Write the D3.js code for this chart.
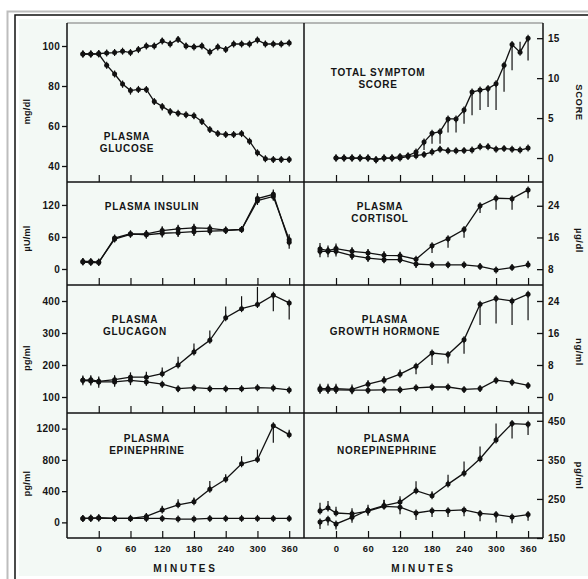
<!DOCTYPE html>
<html><head><meta charset="utf-8">
<script src="https://cdn.jsdelivr.net/npm/d3@7"></script>
<style>
body{margin:0;background:#fff}
svg{display:block}
text{font-family:"Liberation Sans",Arial,sans-serif;font-weight:bold;fill:#151515}
</style>
</head><body>
<svg id="c" width="588" height="579"></svg>
<script>
// ---------------- DATA ----------------
const xTicks = [0,60,120,180,240,300,360];

const glucoseTime = [-30,-15,0,15,30,45,60,75,90,105,120,135,150,165,180,195,210,225,240,255,270,285,300,315,330,345,360];
const glucoseControl = [96,96,96.2,96.5,96.7,97.4,96.7,98.2,100,100,102.5,101,103.3,100,99.5,100,97,99.5,98.3,101,101,101,103,101,101,101,101.5];
const glucoseControlErr = [1.5,1.5,1.5,1.2,1.2,1.2,1.2,1.5,1.5,1.5,1.5,1.5,1.5,1.5,1.5,1.5,1.5,1.5,1.5,1.5,1.5,1.5,1.5,1.5,1.5,1.5,1.5];
const glucoseHypo = [96,96,96,90.4,86,81,77.7,78.3,78.3,72.2,69.8,67.3,66.4,65.6,65.1,62.3,58.2,56.2,55.7,55.7,56.2,52.4,46.6,43.6,43.3,43.3,43.3];
const glucoseHypoErr = [-1.5,-1.5,-1.5,-1.5,-1.5,-1.8,-2,-1.5,-1.5,-1.5,-2,-2,-1.5,-1.5,-1.5,-1.5,-1.5,-1.5,-1.5,-1.5,-1.5,-1.5,-1.5,-1.5,-1.5,-1.5,-1.5];
const glucoseTicks = [40,60,80,100];

const scoreTime = [0,15,30,45,60,75,90,105,120,135,150,165,180,195,210,225,240,255,270,285,300,315,330,345,360];
const scoreControl = [0,0,0,0,0,-0.2,0,0,0,0.2,0.3,0.45,0.75,1.1,0.9,0.9,0.95,1.0,1.4,1.4,1.1,1.2,1.1,1.0,1.25];
const scoreControlErr = [0,0,0,0,0,0,0,0,0,0.2,0.3,0.3,0.4,0.4,0.4,0.3,0.3,0.3,0.4,0.4,0.3,0.3,0.3,0.3,0.3];
const scoreHypo = [0,0,0,0,0,-0.2,0,0,0.2,0.3,0.75,2.0,3.1,3.3,4.9,4.9,6.0,8.25,8.5,8.7,9.3,11.6,14.2,13.25,15];
const scoreHypoErr = [0,0,0,0,0,0,0,0,0,-0.3,-0.5,-1.0,-1.3,-1.5,-1.7,-1.7,-1.7,-2.9,-2.5,-2.3,-3.3,-3.3,-3.2,1.3,-2.8];
const scoreTicks = [0,5,10,15];

const hormoneTime = [-30,-15,0,30,60,90,120,150,180,210,240,270,300,330,360];

const insulinHypo = [14,14,13,56,65,66,72,75,77,76,73,74,128,136,55];
const insulinHypoErr = [6,5,5,6,6,7,8,8,8,8,6,5,14,13,10];
const insulinControl = [13,12,12,58,66,64,67,68,70,71,72,74,132,140,50];
const insulinControlErr = [-5,-5,-5,-6,-6,-7,-8,-8,-8,-8,-6,-5,-12,-12,-12];
const insulinTicks = [0,60,120];

const cortisolHypo = [13.1,12.7,13.2,12.5,12.1,11.5,11.4,10.5,13.9,15.7,18.0,24.0,25.9,25.8,28.0];
const cortisolHypoErr = [1.5,1.3,1.3,1.0,1.0,1.0,1.0,-1.0,-1.8,-2.3,-2.1,-1.8,-2.9,-2.8,-2.1];
const cortisolControl = [12.5,12.5,12.5,11.4,10.8,10.4,10.4,9.3,9.1,9.1,9.1,8.7,7.8,8.4,9.1];
const cortisolControlErr = [-1.5,-1.5,-1.3,-1.0,-0.9,-0.8,-0.8,-1.0,-0.8,-0.8,-0.8,0.8,0.6,0.8,1.0];
const cortisolTicks = [8,16,24];

const glucagonHypo = [152,154,149,154,162,162,173,200,241,277,348,376,389,418,394];
const glucagonHypoErr = [15,14,15,14,15,17,19,26,26,31,35,39,55,-50,-52];
const glucagonControl = [152,150,147,147,152,147,140,126,129,126,126,126,129,128,122];
const glucagonControlErr = [-15,-14,-18,-15,-15,-12,-10,-10,-10,-10,-10,-10,-10,-10,-10];
const glucagonTicks = [100,200,300,400];

const ghHypo = [2.1,2.1,2.1,1.9,3.2,4.2,5.7,7.7,11.0,10.6,14.3,23.2,24.6,24.0,25.7];
const ghHypoErr = [1.2,1.2,1.2,1.2,1.0,1.0,1.2,-2.0,-3.0,-2.2,-3.5,-5.2,-6.2,-6.0,-6.5];
const ghControl = [1.8,1.8,1.8,1.7,1.7,1.8,1.8,2.3,2.5,2.5,1.9,2.1,4.2,3.7,2.9];
const ghControlErr = [-1.0,-1.0,-1.0,-1.0,-0.8,-0.8,-0.8,-0.8,-0.8,-0.8,-0.8,-0.8,-0.8,-0.8,-0.8];
const ghTicks = [0,8,16,24];

const epiHypo = [51,51,59,51,51,76,157,225,263,424,551,750,806,1238,1123];
const epiHypoErr = [30,30,30,20,20,40,55,72,55,106,64,97,127,-220,64];
const epiControl = [51,55,55,51,51,51,51,42,42,51,51,51,51,51,51];
const epiControlErr = [-20,-20,-20,-20,-20,-20,-20,-20,-20,-20,-20,-20,-20,-20,-20];
const epiTicks = [0,400,800,1200];

const neHypo = [191,198,186,203,221,233,242,271,258,288,316,353,401,443,441];
const neHypoErr = [-18,-16,-14,-14,-14,15,15,24,12,24,30,31,42,-38,-27];
const neControl = [219,227,214,212,219,231,229,214,220,220,222,213,210,204,210];
const neControlErr = [21,18,16,14,16,16,-18,-18,-16,-16,-16,-20,-20,-16,-16];
const neTicks = [150,250,350,450];

// ---------------- LAYOUT ----------------
const W = 588, H = 579;
const X0 = 67, XM = 304, X1 = 543;
const rows = [23, 182, 285, 413, 538];
const xDomain = [-60, 388];

const panels = [
  {col:0,row:0,domain:[32,111.5],ticks:glucoseTicks,unit:"mg/dl",unitDy:9,title:["PLASMA","GLUCOSE"],tx:127,ty:140,
   time:glucoseTime,series:[[glucoseControl,glucoseControlErr],[glucoseHypo,glucoseHypoErr]]},
  {col:1,row:0,domain:[-3,16.9],ticks:scoreTicks,unit:"SCORE",unitDy:0,title:["TOTAL SYMPTOM","SCORE"],tx:378,ty:75.5,
   time:scoreTime,series:[[scoreControl,scoreControlErr],[scoreHypo,scoreHypoErr]]},
  {col:0,row:1,domain:[-30,163],ticks:insulinTicks,unit:"\u00b5U/ml",unitDy:5,title:["PLASMA INSULIN"],tx:152,ty:209.5,
   time:hormoneTime,series:[[insulinHypo,insulinHypoErr],[insulinControl,insulinControlErr]]},
  {col:1,row:1,domain:[4,30],ticks:cortisolTicks,unit:"\u00b5g/dl",unitDy:7,title:["PLASMA","CORTISOL"],tx:380,ty:209.5,
   time:hormoneTime,series:[[cortisolHypo,cortisolHypoErr],[cortisolControl,cortisolControlErr]]},
  {col:0,row:2,domain:[50,450],ticks:glucagonTicks,unit:"pg/ml",unitDy:9,title:["PLASMA","GLUCAGON"],tx:135,ty:322.5,
   time:hormoneTime,series:[[glucagonHypo,glucagonHypoErr],[glucagonControl,glucagonControlErr]]},
  {col:1,row:2,domain:[-4,28],ticks:ghTicks,unit:"ng/ml",unitDy:3,title:["PLASMA","GROWTH HORMONE"],tx:385,ty:322.5,
   time:hormoneTime,series:[[ghHypo,ghHypoErr],[ghControl,ghControlErr]]},
  {col:0,row:3,domain:[-200,1400],ticks:epiTicks,unit:"pg/ml",unitDy:8,title:["PLASMA","EPINEPHRINE"],tx:147,ty:441.5,
   time:hormoneTime,series:[[epiHypo,epiHypoErr],[epiControl,epiControlErr]]},
  {col:1,row:3,domain:[150,470],ticks:neTicks,unit:"pg/ml",unitDy:0,title:["PLASMA","NOREPINEPHRINE"],tx:387,ty:441.5,
   time:hormoneTime,series:[[neHypo,neHypoErr],[neControl,neControlErr]]}
];

// ---------------- DRAW ----------------
const svg = d3.select("#c");
svg.append("rect").attr("width",W).attr("height",H).attr("fill","#fff");
svg.append("path").attr("d",`M7.5,${H} V11.5 H${W}`).attr("fill","none").attr("stroke","#bdbdbd").attr("stroke-width",2);
svg.append("path").attr("d",`M15,${H} V15 H${W}`).attr("fill","none").attr("stroke","#111").attr("stroke-width",1.5);
svg.append("rect").attr("x",19).attr("y",19).attr("width",W-19).attr("height",557).attr("fill","#f3f9f5");

const xs = [d3.scaleLinear().domain(xDomain).range([X0,XM]),
            d3.scaleLinear().domain(xDomain).range([XM,X1])];

const g = svg.append("g");
const fmt = d3.format("d");

panels.forEach(p => {
  const x = xs[p.col];
  const y = d3.scaleLinear().domain(p.domain).range([rows[p.row+1], rows[p.row]]);
  const bottom = p.row === 3;

  const xa = d3.axisBottom(x).tickValues(xTicks).tickSize(-7).tickPadding(7)
      .tickFormat(bottom ? fmt : () => "");
  const xg = g.append("g").attr("transform",`translate(0,${rows[p.row+1]})`).call(xa);
  xg.select(".domain").remove();
  xg.selectAll("line").attr("stroke","#111").attr("stroke-width",1.2);
  xg.selectAll("text").attr("font-size",9.5).attr("letter-spacing",0.4).attr("fill","#151515")
    .attr("font-family",'"Liberation Sans",Arial,sans-serif').attr("font-weight","bold");

  let ya, ax;
  if (p.col === 0) { ya = d3.axisLeft(y).tickValues(p.ticks).tickSize(5).tickPadding(2).tickFormat(fmt); ax = X0; }
  else { ya = d3.axisRight(y).tickValues(p.ticks).tickSize(-6).tickPadding(5).tickFormat(fmt); ax = X1; }
  const yg = g.append("g").attr("transform",`translate(${ax},0)`).call(ya);
  yg.select(".domain").remove();
  yg.selectAll("line").attr("stroke","#111").attr("stroke-width",1.3);
  yg.selectAll("text").attr("font-size",10).attr("letter-spacing",0.3).attr("fill","#151515")
    .attr("font-family",'"Liberation Sans",Arial,sans-serif').attr("font-weight","bold");

  const cy = (rows[p.row]+rows[p.row+1])/2 + p.unitDy;
  if (p.col === 0) {
    g.append("text").attr("transform",`translate(30,${cy}) rotate(-90)`).attr("text-anchor","middle")
      .attr("font-size",9).attr("letter-spacing",0.3).text(p.unit);
  } else {
    g.append("text").attr("transform",`translate(576,${cy}) rotate(90)`).attr("text-anchor","middle")
      .attr("font-size",9.5).attr("letter-spacing",0.5).text(p.unit);
  }

  p.title.forEach((t,i) => {
    g.append("text").attr("x",p.tx).attr("y",p.ty + i*12).attr("text-anchor","middle")
      .attr("font-size",10).attr("letter-spacing",0.7).text(t);
  });

  const line = d3.line().x(d => x(d.t)).y(d => y(d.v));
  p.series.forEach(([vals, errs]) => {
    const pts = p.time.map((t,i) => ({t, v: vals[i], e: errs[i]}));
    g.append("path").datum(pts).attr("d",line).attr("fill","none")
      .attr("stroke","#111").attr("stroke-width",1.3);
    g.selectAll(null).data(pts).enter().append("line")
      .attr("x1",d=>x(d.t)).attr("x2",d=>x(d.t))
      .attr("y1",d=>y(d.v)).attr("y2",d=>y(d.v+d.e))
      .attr("stroke","#111").attr("stroke-width",1.2);
    g.selectAll(null).data(pts).enter().append("line")
      .attr("x1",d=>x(d.t)).attr("x2",d=>x(d.t))
      .attr("y1",d=>y(d.v)-3.5).attr("y2",d=>y(d.v)+3.5)
      .attr("stroke","#111").attr("stroke-width",1.2);
    g.selectAll(null).data(pts).enter().append("circle")
      .attr("cx",d=>x(d.t)).attr("cy",d=>y(d.v)).attr("r",2.5).attr("fill","#111");
  });
});

g.append("line").attr("x1",X0).attr("x2",X1).attr("y1",rows[0]).attr("y2",rows[0])
  .attr("stroke","#777").attr("stroke-width",1.2);
[X0, XM, X1].forEach(xv => g.append("line").attr("x1",xv).attr("x2",xv)
  .attr("y1",rows[0]).attr("y2",rows[4]).attr("stroke","#111").attr("stroke-width",1.5));
rows.slice(1).forEach(yv => g.append("line").attr("x1",X0).attr("x2",X1)
  .attr("y1",yv).attr("y2",yv).attr("stroke","#111").attr("stroke-width",1.5));

[(X0+XM)/2, (XM+X1)/2].forEach(cx => g.append("text").attr("x",cx).attr("y",572)
  .attr("text-anchor","middle").attr("font-size",10).attr("letter-spacing",2.8).text("MINUTES"));
</script>
</body></html>
